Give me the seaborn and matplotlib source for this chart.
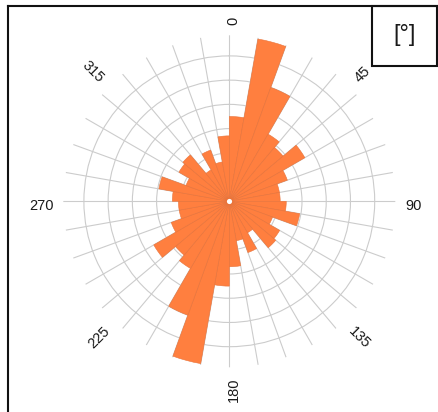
import numpy as np
import pandas as pd
import matplotlib
matplotlib.use("Agg")
import matplotlib.pyplot as plt
import matplotlib.transforms as mtransforms
import seaborn as sns
from matplotlib.lines import Line2D
from matplotlib.patches import Rectangle

# Share of orientations per 10° sector, clockwise from north [%]
sector_start = list(range(0, 360, 10))
share = [3.5, 6.8, 5.0, 3.2, 2.9, 3.6, 2.55, 2.1, 2.1,
         2.35, 2.95, 1.9, 2.4, 2.5, 1.5, 2.25, 1.65, 2.7,
         3.5, 6.8, 5.0, 3.2, 2.9, 3.6, 2.55, 2.1, 2.1,
         2.35, 2.95, 1.9, 2.4, 2.5, 1.5, 2.25, 1.65, 2.7]
direction_ticks = [0, 45, 90, 135, 180, 225, 270, 315]
ring_values = [1, 2, 3, 4, 5, 6]
unit_label = "[°]"

BAR = "#FF7F3F"
GRID = "#cccccc"
INK = "#1a1a1a"

plt.rcParams["font.family"] = ["Liberation Sans", "DejaVu Sans"]

W, H = 438, 412
fig = plt.figure(figsize=(W / 100, H / 100), dpi=100)

# polar axes centred at (229, 201) px with a 166 px radius
cx, cy, rad = 229.3, 201.3, 166.0
ax = fig.add_axes([(cx - rad) / W, (H - cy - rad) / H, 2 * rad / W, 2 * rad / H],
                  projection="polar")
ax.set_theta_zero_location("N")
ax.set_theta_direction(-1)

df = pd.DataFrame({
    "theta": np.deg2rad(np.array(sector_start, dtype=float) + 5.0),
    "share": share,
})
sns.barplot(data=df, x="theta", y="share", native_scale=True, orient="x",
            width=1.0, color=BAR, saturation=1, errorbar=None,
            edgecolor="#e8733a", linewidth=0.4, ax=ax)

rmax = 6.85
ax.set_ylim(0, rmax)
ax.set_xticks(np.deg2rad(np.arange(0, 360, 10)))
ax.set_xticklabels([])
ax.set_yticks(ring_values)
ax.set_yticklabels([])
ax.set_xlabel("")
ax.set_ylabel("")
ax.grid(True, color=GRID, linewidth=0.8)
ax.set_axisbelow(True)
ax.spines["polar"].set_visible(False)
ax.set_facecolor("white")

# hole in the centre
ax.scatter([0], [0], s=14, color="white", zorder=5, linewidths=0)

# direction labels laid out radially, nudged slightly off their spoke
r_lab = rmax * 176.0 / rad
nudge = 4.5  # px, towards the text's lower side
for d in direction_ticks:
    if d < 180:
        rot, ha = 90 - d, "left"
    else:
        rot, ha = 270 - d, "right"
    a = np.deg2rad(rot)
    tr = mtransforms.offset_copy(ax.transData, fig=fig,
                                 x=nudge * np.sin(a), y=-nudge * np.cos(a),
                                 units="dots")
    ax.text(np.deg2rad(d), r_lab, str(d), rotation=rot, rotation_mode="anchor",
            ha=ha, va="center", fontsize=10.5, color=INK, transform=tr)

# outer frame (left and top edges)
x0 = 8.3 / W
yt = 1 - 6.0 / H
fig.add_artist(Line2D([x0, x0], [0, yt], color="#111111", linewidth=1.5))
fig.add_artist(Line2D([x0, 1], [yt, yt], color="#111111", linewidth=1.5))

# unit box in the top-right corner
bx0, bx1, by1 = 372.0, 437.0, 66.0
fig.add_artist(Rectangle((bx0 / W, 1 - by1 / H), (bx1 - bx0) / W, (by1 - 6.0) / H,
                         transform=fig.transFigure, fill=False,
                         edgecolor="#111111", linewidth=1.5))
fig.text((bx0 + bx1) / 2 / W, 1 - 35.0 / H, unit_label, ha="center", va="center",
         fontsize=17, color=INK)

fig.savefig("out.png", dpi=100, facecolor="white")
